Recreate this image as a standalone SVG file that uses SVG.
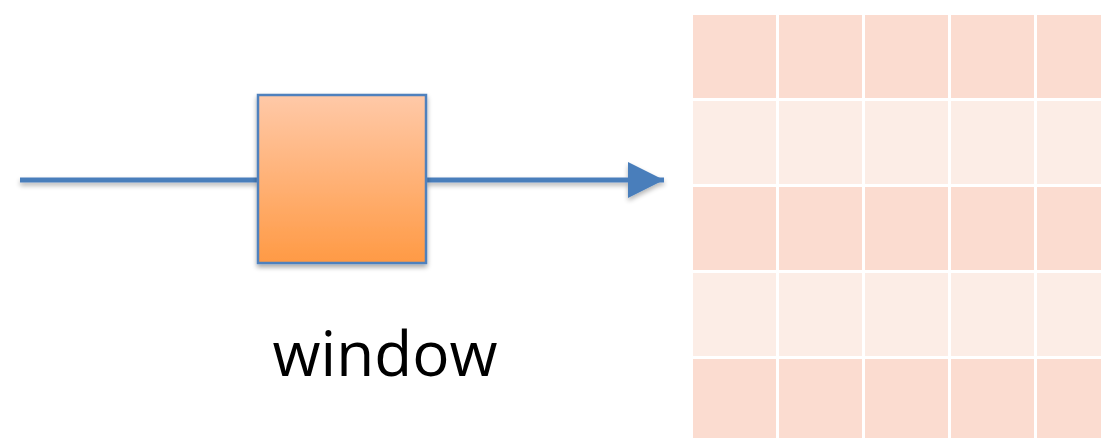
<svg xmlns="http://www.w3.org/2000/svg" width="1101" height="438" viewBox="0 0 1101 438">
  <defs>
    <linearGradient id="boxGrad" x1="0" y1="0" x2="0" y2="1">
      <stop offset="0" stop-color="#FFC9A8"/>
      <stop offset="1" stop-color="#FF9A45"/>
    </linearGradient>
    <filter id="shadow" x="-20%" y="-20%" width="140%" height="150%">
      <feGaussianBlur in="SourceAlpha" stdDeviation="2.5"/>
      <feOffset dx="0" dy="3" result="b"/>
      <feComponentTransfer><feFuncA type="linear" slope="0.35"/></feComponentTransfer>
      <feMerge><feMergeNode/><feMergeNode in="SourceGraphic"/></feMerge>
    </filter>
    <filter id="lineShadow" filterUnits="userSpaceOnUse" x="0" y="140" width="700" height="80">
      <feGaussianBlur in="SourceAlpha" stdDeviation="2.5"/>
      <feOffset dx="0" dy="3" result="b"/>
      <feComponentTransfer><feFuncA type="linear" slope="0.3"/></feComponentTransfer>
      <feMerge><feMergeNode/><feMergeNode in="SourceGraphic"/></feMerge>
    </filter>
    <marker id="arrow" markerUnits="userSpaceOnUse" markerWidth="40" markerHeight="40" refX="36" refY="18" orient="auto">
      <path d="M0,0 L36,18 L0,36 Z" fill="#4A7EBB"/>
    </marker>
  </defs>
  <style>
    .conn { stroke: #4A7EBB; stroke-width: 5; fill: none; }
    .dark { fill: #FBDCD0; }
    .light { fill: #FCEDE6; }
    .lbl { font-family: "Open Sans", "Liberation Sans", sans-serif; font-size: 62px; fill: #000; }
  </style>
  <g id="connectors" filter="url(#lineShadow)">
    <line class="conn" x1="20" y1="180" x2="258" y2="180"/>
    <line class="conn" x1="426" y1="180" x2="664" y2="180" marker-end="url(#arrow)"/>
  </g>
  <g id="window-node">
    <rect x="258" y="95" width="168" height="168" fill="url(#boxGrad)" stroke="#4F81BD" stroke-width="2.5" filter="url(#shadow)"/>
    <text class="lbl" x="385" y="376" text-anchor="middle">window</text>
  </g>
  <g id="grid">
    <rect class="dark" x="693" y="15" width="83" height="83"/>
    <rect class="dark" x="779" y="15" width="83" height="83"/>
    <rect class="dark" x="865" y="15" width="83" height="83"/>
    <rect class="dark" x="951" y="15" width="83" height="83"/>
    <rect class="dark" x="1037" y="15" width="83" height="83"/>
    <rect class="light" x="693" y="101" width="83" height="83"/>
    <rect class="light" x="779" y="101" width="83" height="83"/>
    <rect class="light" x="865" y="101" width="83" height="83"/>
    <rect class="light" x="951" y="101" width="83" height="83"/>
    <rect class="light" x="1037" y="101" width="83" height="83"/>
    <rect class="dark" x="693" y="187" width="83" height="83"/>
    <rect class="dark" x="779" y="187" width="83" height="83"/>
    <rect class="dark" x="865" y="187" width="83" height="83"/>
    <rect class="dark" x="951" y="187" width="83" height="83"/>
    <rect class="dark" x="1037" y="187" width="83" height="83"/>
    <rect class="light" x="693" y="273" width="83" height="83"/>
    <rect class="light" x="779" y="273" width="83" height="83"/>
    <rect class="light" x="865" y="273" width="83" height="83"/>
    <rect class="light" x="951" y="273" width="83" height="83"/>
    <rect class="light" x="1037" y="273" width="83" height="83"/>
    <rect class="dark" x="693" y="359" width="83" height="83"/>
    <rect class="dark" x="779" y="359" width="83" height="83"/>
    <rect class="dark" x="865" y="359" width="83" height="83"/>
    <rect class="dark" x="951" y="359" width="83" height="83"/>
    <rect class="dark" x="1037" y="359" width="83" height="83"/>
  </g>
</svg>
